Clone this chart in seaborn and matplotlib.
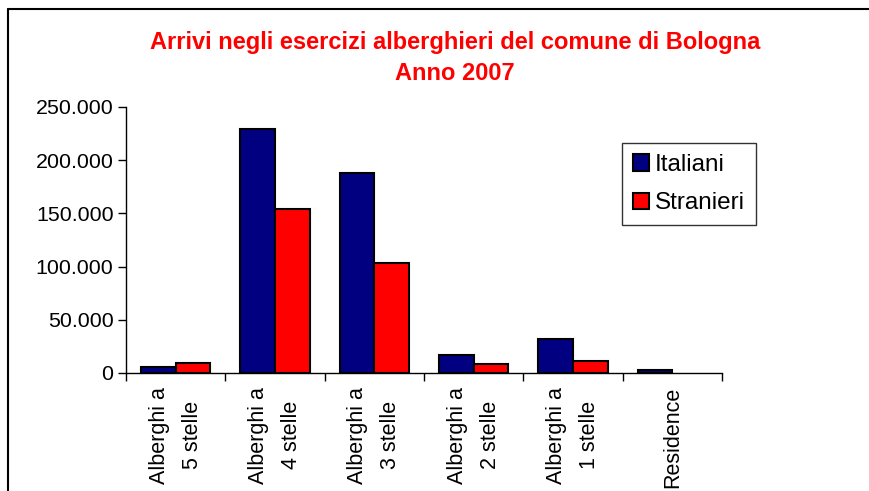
import matplotlib
matplotlib.use("Agg")
import matplotlib.pyplot as plt
import seaborn as sns
import pandas as pd
import numpy as np
from matplotlib.ticker import FuncFormatter, FixedLocator
from matplotlib.lines import Line2D
from matplotlib.patches import Patch

categories = ["Alberghi a\n5 stelle", "Alberghi a\n4 stelle", "Alberghi a\n3 stelle",
              "Alberghi a\n2 stelle", "Alberghi a\n1 stelle", "Residence"]
italiani = [5600, 229300, 188000, 17200, 32000, 2500]
stranieri = [9400, 154100, 103400, 8200, 11600, 0]
series = ["Italiani", "Stranieri"]
colors = ["#000080", "#FF0000"]

df = pd.DataFrame({
    "cat": categories * 2,
    "serie": [series[0]] * len(categories) + [series[1]] * len(categories),
    "val": italiani + stranieri,
})

sns.set_style("white")
plt.rcParams["font.family"] = ["Liberation Sans", "DejaVu Sans"]
plt.rcParams["text.color"] = "black"
plt.rcParams["xtick.color"] = "black"
plt.rcParams["ytick.color"] = "black"
plt.rcParams["axes.labelcolor"] = "black"

fig = plt.figure(figsize=(8.7, 4.91), dpi=100)
ax = fig.add_axes([126/870, 1 - 373/491, (722-126)/870, (373-107)/491])

sns.barplot(data=df, x="cat", y="val", hue="serie", palette=colors, width=0.7,
            edgecolor="black", linewidth=1.5, saturation=1, ax=ax, order=categories,
            hue_order=series, legend=False)
for p in ax.patches:
    if p.get_height() == 0:
        p.set_visible(False)

ax.set_xlim(-0.5, len(categories) - 0.5)
ax.set_ylim(0, 250000)
ax.set_yticks(np.arange(0, 250001, 50000))
ax.yaxis.set_major_formatter(FuncFormatter(lambda v, p: f"{v:,.0f}".replace(",", ".")))
ax.tick_params(axis="y", labelsize=15.4, length=6, width=1, direction="out", left=True,
               color="black", labelcolor="black", pad=3)

ax.xaxis.set_major_locator(FixedLocator(np.arange(-0.5, len(categories), 1.0)))
ax.xaxis.set_minor_locator(FixedLocator(np.arange(0, len(categories), 1.0)))
ax.set_xticklabels([""] * (len(categories) + 1), minor=False)
ax.set_xticklabels(categories, minor=True, rotation=90, fontsize=15.5, ha="center", va="top",
                   multialignment="center", linespacing=1.75, color="black")
ax.tick_params(axis="x", which="major", length=6, width=1, direction="out", bottom=True, color="black")
ax.tick_params(axis="x", which="minor", length=0, pad=10, labelcolor="black")

ax.set_xlabel("")
ax.set_ylabel("")
for s in ["top", "right"]:
    ax.spines[s].set_visible(False)
for s in ["left", "bottom"]:
    ax.spines[s].set_color("black")
    ax.spines[s].set_linewidth(1)

handles = [Patch(facecolor=c, edgecolor="black", linewidth=1.5, label=s)
           for s, c in zip(series, colors)]
leg = ax.legend(handles=handles, loc="upper left",
                bbox_to_anchor=((622-126)/596, (373-143)/266),
                fontsize=17.5, frameon=True, fancybox=False, edgecolor="black",
                handlelength=0.65, handleheight=0.65, handletextpad=0.25, borderpad=0.45,
                labelspacing=0.68, borderaxespad=0, labelcolor="black")
leg.get_frame().set_linewidth(1)

fig.text(455/870, 1 - 43/491, "Arrivi negli esercizi alberghieri del comune di Bologna",
         color="#FF0000", fontsize=17, fontweight="bold", ha="center", va="center")
fig.text(455/870, 1 - 73/491, "Anno 2007",
         color="#FF0000", fontsize=17, fontweight="bold", ha="center", va="center")

fig.add_artist(Line2D([8/870, 8/870], [0, 1 - 9/491], color="black", linewidth=1.5))
fig.add_artist(Line2D([8/870, 1], [1 - 9/491, 1 - 9/491], color="black", linewidth=1.5))

fig.savefig("out.png", dpi=100)
